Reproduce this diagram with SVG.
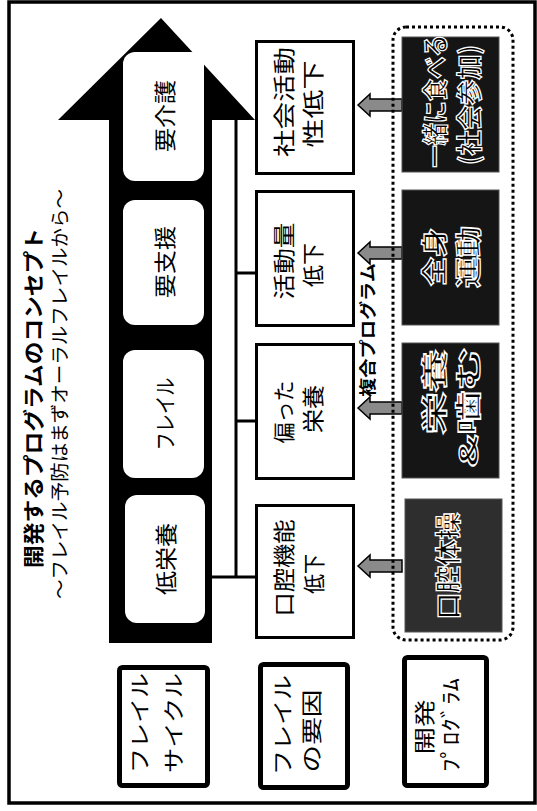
<svg xmlns="http://www.w3.org/2000/svg" width="537" height="811" viewBox="0 0 537 811">
<style>
text{font-family:"Noto Sans CJK JP","Noto Sans",sans-serif;text-anchor:middle;dominant-baseline:central}
.t{font-size:22px}
.title{font-size:21px;font-weight:700}
.sub{font-size:19px}
.lab{font-size:21px}
.inner{font-size:22px}
.prog{font-size:26px;font-weight:700;fill:#000;stroke:#fff;stroke-width:1.3px}
.mid{font-size:17px;font-weight:700}
.fbox{fill:#fff;stroke:#000;stroke-width:3}
.lbox{fill:#fff;stroke:#000;stroke-width:5}
.wbox{fill:#fff}
.pbox{fill:#151515;stroke:#555;stroke-width:1}
.sarrow{fill:#8a8a8a;stroke:#000;stroke-width:1.5}
.conn{stroke:#000;stroke-width:3;fill:none}
</style>
<rect x="9" y="2" width="526" height="801" fill="#fff" stroke="#000" stroke-width="3.5"/>

<g id="title">
<text class="title" transform="translate(32,398) rotate(-90)" textLength="340" lengthAdjust="spacingAndGlyphs">開発するプログラムのコンセプト</text>
<text class="sub" transform="translate(58,394) rotate(-90)" textLength="410" lengthAdjust="spacingAndGlyphs">～フレイル予防はまずオーラルフレイルから～</text>
</g>

<g id="big-arrow">
<polygon points="109,643 212,643 212,120 255,120 161,18 58,120 109,120" fill="#000"/>
</g>

<g id="stage-youkaigo">
<rect class="wbox" x="123" y="52" width="81" height="129" rx="12"/>
<text class="inner" transform="translate(163,116) rotate(-90)" textLength="72" lengthAdjust="spacingAndGlyphs">要介護</text>
</g>
<g id="stage-youshien">
<rect class="wbox" x="123" y="200" width="81" height="125" rx="12"/>
<text class="inner" transform="translate(163,262) rotate(-90)" textLength="72" lengthAdjust="spacingAndGlyphs">要支援</text>
</g>
<g id="stage-frail">
<rect class="wbox" x="123" y="350" width="81" height="128" rx="12"/>
<text class="inner" transform="translate(163,414) rotate(-90)" textLength="73" lengthAdjust="spacingAndGlyphs">フレイル</text>
</g>
<g id="stage-teieiyou">
<rect class="wbox" x="125" y="495" width="80" height="128" rx="12"/>
<text class="inner" transform="translate(164,559) rotate(-90)" textLength="72" lengthAdjust="spacingAndGlyphs">低栄養</text>
</g>

<g id="connectors">
<path class="conn" d="M236,120 V577 M236,273 H256 M236,421 H256 M212,577 H256"/>
<polygon class="sarrow" points="358,105 370,94 370,99 402,99 402,111 370,111 370,116"/>
<polygon class="sarrow" points="358,253 370,242 370,247 402,247 402,259 370,259 370,264"/>
<polygon class="sarrow" points="358,408 370,397 370,402 402,402 402,414 370,414 370,419"/>
<polygon class="sarrow" points="358,566 370,555 370,560 402,560 402,572 370,572 370,577"/>
</g>

<g id="factor-social">
<rect class="fbox" x="256.5" y="41.5" width="97" height="132"/>
<text class="t" transform="translate(282,102) rotate(-90)" textLength="110" lengthAdjust="spacingAndGlyphs">社会活動</text>
<text class="t" transform="translate(311,104) rotate(-90)" textLength="87" lengthAdjust="spacingAndGlyphs">性低下</text>
</g>
<g id="factor-activity">
<rect class="fbox" x="256.5" y="191.5" width="97" height="134"/>
<text class="t" transform="translate(282,261) rotate(-90)" textLength="77" lengthAdjust="spacingAndGlyphs">活動量</text>
<text class="t" transform="translate(311,265) rotate(-90)" textLength="44" lengthAdjust="spacingAndGlyphs">低下</text>
</g>
<g id="factor-nutrition">
<rect class="fbox" x="256.5" y="344.5" width="97" height="134"/>
<text class="t" transform="translate(282,412) rotate(-90)" textLength="63" lengthAdjust="spacingAndGlyphs">偏った</text>
<text class="t" transform="translate(311,409) rotate(-90)" textLength="48" lengthAdjust="spacingAndGlyphs">栄養</text>
</g>
<g id="factor-oral">
<rect class="fbox" x="256.5" y="505.5" width="97" height="132"/>
<text class="t" transform="translate(282,568) rotate(-90)" textLength="97" lengthAdjust="spacingAndGlyphs">口腔機能</text>
<text class="t" transform="translate(312,574) rotate(-90)" textLength="40" lengthAdjust="spacingAndGlyphs">低下</text>
</g>

<g id="program-group">
<rect x="393" y="27" width="120" height="613" rx="13" fill="none" stroke="#000" stroke-width="3" stroke-dasharray="3 3"/>
<text class="mid" transform="translate(366,330) rotate(-90)" textLength="134" lengthAdjust="spacingAndGlyphs">複合プログラム</text>
</g>

<g id="prog-eat">
<rect class="pbox" x="402" y="37" width="97" height="135"/>
<text class="prog" transform="translate(433,101) rotate(-90)" textLength="133" lengthAdjust="spacingAndGlyphs">一緒に食べる</text>
<text class="prog" transform="translate(467,105) rotate(-90)" textLength="120" lengthAdjust="spacingAndGlyphs">(社会参加)</text>
</g>
<g id="prog-exercise">
<rect class="pbox" x="402" y="190" width="97" height="135"/>
<text class="prog" transform="translate(432,257) rotate(-90)" textLength="58" lengthAdjust="spacingAndGlyphs">全身</text>
<text class="prog" transform="translate(466,257) rotate(-90)" textLength="62" lengthAdjust="spacingAndGlyphs">運動</text>
</g>
<g id="prog-nutrition">
<rect class="pbox" x="402" y="343" width="97" height="135"/>
<text class="prog" transform="translate(432,392) rotate(-90)" textLength="85" lengthAdjust="spacingAndGlyphs">栄養</text>
<text class="prog" transform="translate(466,407) rotate(-90)" textLength="120" lengthAdjust="spacingAndGlyphs">&amp;噛む</text>
</g>
<g id="prog-oral">
<rect class="pbox" x="405" y="499" width="97" height="133" fill="#2e2e2e" style="fill:#2e2e2e"/>
<text class="prog" transform="translate(446,566) rotate(-90)" textLength="107" lengthAdjust="spacingAndGlyphs">口腔体操</text>
</g>

<g id="label-cycle">
<rect class="lbox" x="119.5" y="667.5" width="88" height="118" rx="3"/>
<text class="lab" transform="translate(138,723) rotate(-90)" textLength="100" lengthAdjust="spacingAndGlyphs">フレイル</text>
<text class="lab" transform="translate(172,723) rotate(-90)" textLength="100" lengthAdjust="spacingAndGlyphs">サイクル</text>
</g>
<g id="label-factor">
<rect class="lbox" x="260.5" y="664.5" width="87" height="123" rx="3"/>
<text class="lab" transform="translate(281,725) rotate(-90)" textLength="100" lengthAdjust="spacingAndGlyphs">フレイル</text>
<text class="lab" transform="translate(310,731) rotate(-90)" textLength="83" lengthAdjust="spacingAndGlyphs">の要因</text>
</g>
<g id="label-program">
<rect class="lbox" x="404.5" y="657.5" width="82" height="128" rx="3"/>
<text class="lab" transform="translate(423,727) rotate(-90)" textLength="55" lengthAdjust="spacingAndGlyphs">開発</text>
<text class="lab" transform="translate(449,725) rotate(-90)" textLength="94" lengthAdjust="spacingAndGlyphs">ﾌﾟﾛｸﾞﾗﾑ</text>
</g>
</svg>
